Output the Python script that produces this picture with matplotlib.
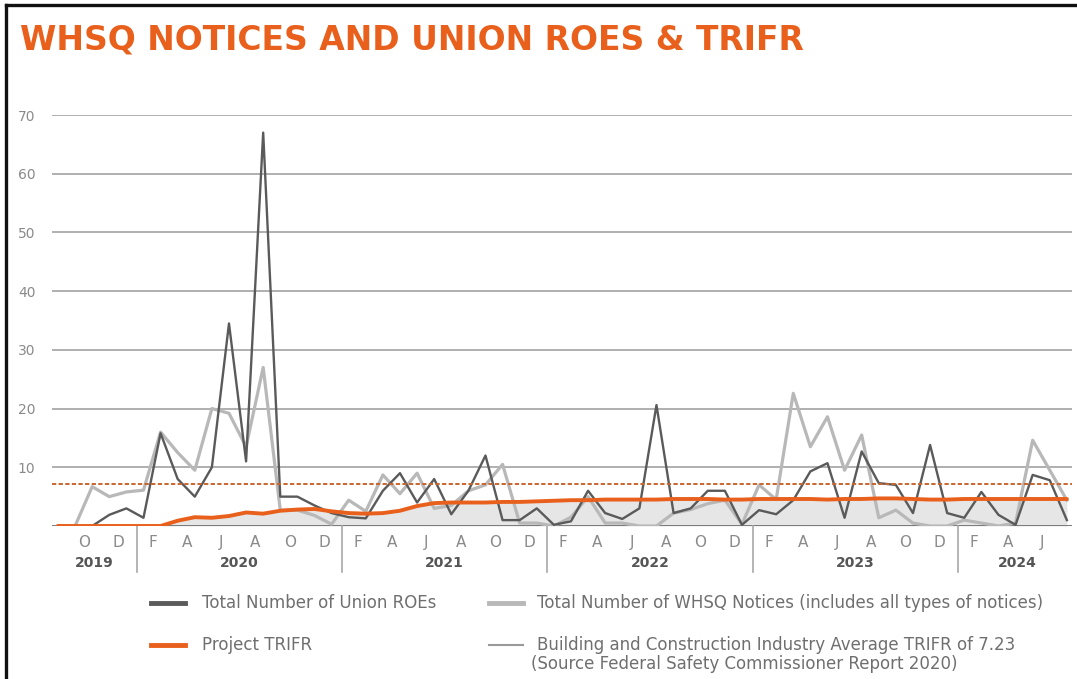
import matplotlib
import numpy as np

matplotlib.use("Agg")

import matplotlib.pyplot as plt
from matplotlib.lines import Line2D

ORANGE = "#e8601c"
DARK_GREY = "#5a5a5a"
LIGHT_GREY = "#b8b8b8"
TEXT_GREY = "#6f6f6f"

# monthly series, Aug 2019 .. Jul 2024
union_roes = [
    0, 0, 0, 1.9, 3.0, 1.4, 15.8, 8, 5, 10,
    34.5, 11, 67, 5, 5, 3.5, 2.2, 1.5, 1.3, 6,
    9, 4, 8, 2, 6, 12, 1, 1, 3, 0.2,
    0.8, 6, 2.2, 1.2, 3, 20.6, 2.2, 3, 6, 6,
    0.2, 2.7, 2, 4.4, 9.3, 10.7, 1.4, 12.7, 7.3, 7,
    2.2, 13.8, 2.2, 1.4, 5.8, 1.9, 0.2, 8.7, 7.8, 1.0,
]
whsq_notices = [
    0, 0, 6.7, 5.0, 5.8, 6.1, 16, 12.5, 9.5, 20,
    19.2, 13.5, 27, 2.7, 2.7, 1.8, 0.3, 4.4, 2.5, 8.7,
    5.5, 9, 3, 3.5, 6, 7, 10.5, 0.5, 0.5, 0,
    1.5, 5, 0.5, 0.5, 0, 0, 2.2, 2.8, 3.8, 4.4,
    0.3, 7, 4.5, 22.6, 13.5, 18.6, 9.5, 15.5, 1.4, 2.7,
    0.5, 0, 0, 1.0, 0.5, 0, 0.5, 14.6, 9.5, 4.4,
]
project_trifr = [
    0, 0, 0, 0, 0, 0, 0, 0.9, 1.5, 1.4,
    1.7, 2.3, 2.1, 2.6, 2.8, 2.9, 2.5, 2.2, 2.1, 2.2,
    2.6, 3.4, 3.9, 4.0, 4.0, 4.0, 4.1, 4.1, 4.2, 4.3,
    4.4, 4.4, 4.5, 4.5, 4.5, 4.5, 4.6, 4.6, 4.6, 4.5,
    4.5, 4.6, 4.6, 4.6, 4.6, 4.5, 4.6, 4.6, 4.7, 4.7,
    4.6, 4.5, 4.5, 4.6, 4.6, 4.6, 4.6, 4.6, 4.6, 4.6,
]
industry_trifr = 7.23

month_labels = ["O", "D"] + ["F", "A", "J", "A", "O", "D"] * 4 + ["F", "A", "J"]
years = ["2019", "2020", "2021", "2022", "2023", "2024"]

W, H = 1077, 679


def fx(x):
    return x / W


def fy(y):
    return 1 - y / H


fig = plt.figure(figsize=(W / 100, H / 100), dpi=100)
fig.patch.set_facecolor("white")

# outer frame (top and left edges)
fig.add_artist(Line2D([fx(6), fx(6)], [fy(5), fy(679)], color="#111111", lw=2.4))
fig.add_artist(Line2D([fx(6), fx(1077)], [fy(5), fy(5)], color="#111111", lw=2.4))

fig.text(fx(20), fy(40), "WHSQ NOTICES AND UNION ROES & TRIFR", color=ORANGE,
         fontsize=23.8, fontweight="bold", family="DejaVu Sans",
         ha="left", va="center")

ax = fig.add_axes([fx(52), fy(526), fx(1072) - fx(52), (526 - 115) / H])
x = np.arange(len(union_roes))

ax.fill_between(x, 0, project_trifr, color="#e6e6e6", lw=0, zorder=1)
for v in range(10, 80, 10):
    ax.axhline(v, color="#9a9a9a", lw=1.1, zorder=2)
ax.axhline(0, color="#7a7a7a", lw=1.4, zorder=2)

ax.plot(x, whsq_notices, color=LIGHT_GREY, lw=2.3, zorder=3)
ax.plot(x, union_roes, color=DARK_GREY, lw=1.7, zorder=4)
ax.axhline(industry_trifr, color="#c9652e", lw=1.4, ls=(0, (2.2, 1.2)), zorder=5)
ax.plot(x, project_trifr, color=ORANGE, lw=2.8, zorder=6, solid_capstyle="round")

ax.set_xlim(-0.35, 59.3)
ax.set_ylim(0, 70)
ax.set_yticks(range(10, 80, 10))
ax.set_yticklabels([str(v) for v in range(10, 80, 10)], color="#8a8a8a", fontsize=10)
ax.tick_params(axis="y", length=0, pad=12)
ax.set_xticks([])
for side in ["top", "right", "left", "bottom"]:
    ax.spines[side].set_visible(False)

trans = ax.get_xaxis_transform()
for k, label in enumerate(month_labels):
    ax.text(2 + 2 * k - 0.45, -0.041, label, transform=trans, ha="center", va="center",
            color="#8a8a8a", fontsize=11, clip_on=False)

separators = [4.62 + 12 * k for k in range(5)]
for s in separators:
    ax.add_artist(Line2D([s, s], [0, -0.112], transform=trans, color="#a8a8a8", lw=1.2,
                         clip_on=False))

edges = [-0.35] + separators + [59.6]
for k, year in enumerate(years):
    ax.text((edges[k] + edges[k + 1]) / 2, -0.09, year, transform=trans, ha="center",
            va="center", color="#555555", fontsize=10, fontweight="bold", clip_on=False)

# legend rows
legend_rows = [
    (151, 603, DARK_GREY, 3.5, "Total Number of Union ROEs", 202),
    (151, 645, ORANGE, 3.5, "Project TRIFR", 202),
    (489, 603, LIGHT_GREY, 3.5, "Total Number of WHSQ Notices (includes all types of notices)", 537),
    (489, 645, "#9a9a9a", 1.5, "Building and Construction Industry Average TRIFR of 7.23", 537),
]
for x0, y0, color, lw, label, tx in legend_rows:
    fig.add_artist(Line2D([fx(x0), fx(x0 + 34)], [fy(y0), fy(y0)], color=color, lw=lw))
    fig.text(fx(tx), fy(y0), label, color=TEXT_GREY, fontsize=12, ha="left", va="center")
fig.text(fx(531), fy(664), "(Source Federal Safety Commissioner Report 2020)", color=TEXT_GREY,
         fontsize=12, ha="left", va="center")

fig.savefig("out.png", dpi=100, facecolor="white")
